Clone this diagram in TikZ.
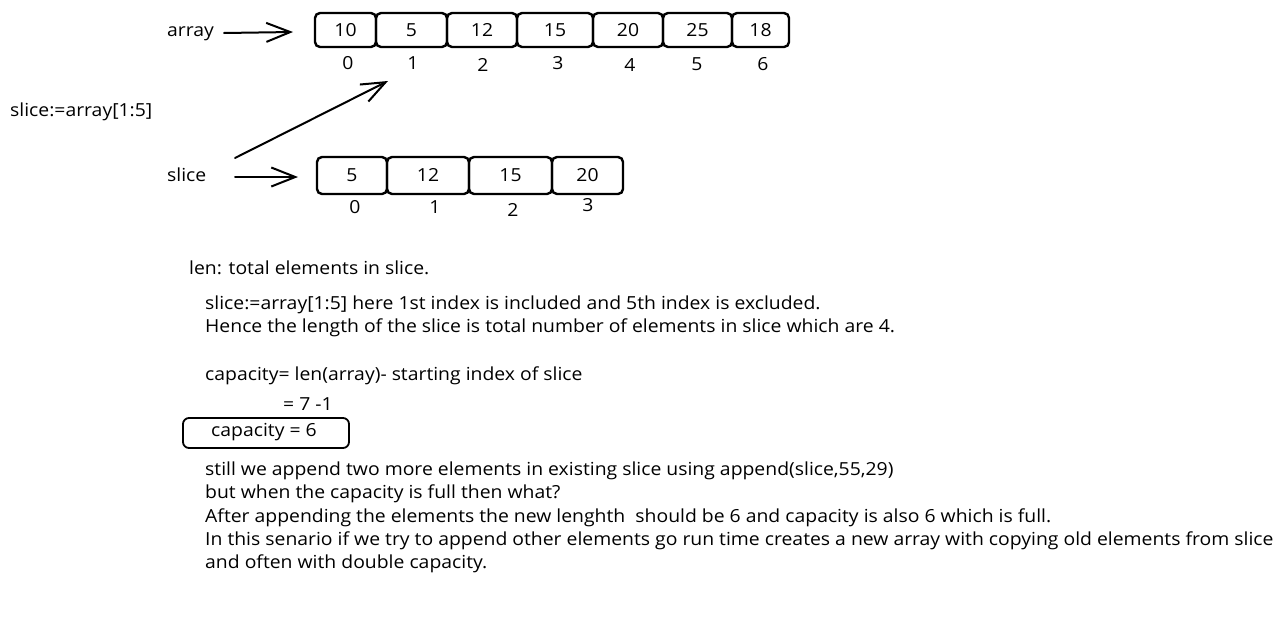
\documentclass[tikz,border=0pt]{standalone}
\usepackage{fontspec}
\setmainfont{Open Sans}[FakeStretch=1.076]
\usetikzlibrary{arrows.meta}
\tikzset{
  cell/.style={draw, line width=2.4pt, rounded corners=5pt},
  celltxt/.style={font=\fontsize{18}{21}\selectfont},
  idx/.style={font=\fontsize{18}{21}\selectfont},
  lbl/.style={font=\fontsize{18}{21}\selectfont, anchor=base west, inner sep=0pt},
  body/.style={font=\fontsize{18}{21}\selectfont, anchor=base west, inner sep=0pt},
  sk/.style={line width=2pt, line cap=round, -{Straight Barb[length=24pt,width=19pt,line width=2pt]}},
}
\begin{document}
\begin{tikzpicture}[x=1pt,y=-1pt]
\useasboundingbox (0,0) rectangle (1285,627);
% array cells
\foreach \a/\b/\v/\n in {315/376/10/a0,376/447/5/a1,447/517/12/a2,517/593/15/a3,593/663/20/a4,663/732/25/a5,732/789/18/a6}{
  \draw[cell] (\a,13) rectangle (\b,47);
  \node[celltxt] (\n) at ({(\a+\b)/2},30) {\v};
}
\foreach \x/\y/\t in {348/63/0,413/63/1,483/65/2,558/63/3,630/65/4,697/64/5,763/64/6}{
  \node[idx] (ai\t) at (\x,\y) {\t};
}
% slice cells
\foreach \a/\b/\v/\n in {317/387/5/s0,387/469/12/s1,469/552/15/s2,552/623/20/s3}{
  \draw[cell] (\a,157) rectangle (\b,194);
  \node[celltxt] (\n) at ({(\a+\b)/2},175) {\v};
}
\foreach \x/\y/\t in {355/207/0,435/207/1,513/210/2,588/205/3}{
  \node[idx] (si\t) at (\x,\y) {\t};
}
% labels
\node[lbl] (arr) at (167,36) {array};
\node[lbl] (sl) at (167,181) {slice};
\node[lbl] (def) at (10,116) {slice:=array[1:5]};
\coordinate (arrS) at (224,33);
\coordinate (arrE) at (293,32);
\draw[sk] (arrS) -- (arrE);
\coordinate (slS) at (235,177);
\coordinate (slE) at (298,177);
\draw[sk] (slS) -- (slE);
\coordinate (dS) at (235,158);
\coordinate (dE) at (388,81);
\draw[sk] (dS) -- (dE);
% body text
\node[body] (t1) at (189,274) {len: total elements in slice.};
\node[body] (t2) at (205,309) {slice:=array[1:5] here 1st index is included and 5th index is excluded.};
\node[body] (t3) at (205,332) {Hence the length of the slice is total number of elements in slice which are 4.};
\node[body] (t4) at (205,380) {capacity= len(array)- starting index of slice};
\node[body] (t5) at (283,410) {= 7 -1};
\draw[line width=1.8pt, rounded corners=6pt] (183,418) rectangle (349,448);
\node[body] (cap) at (211,436) {capacity = 6};
\node[body] (t6) at (205,475) {still we append two more elements in existing slice using append(slice,55,29)};
\node[body] (t7) at (205,498) {but when the capacity is full then what?};
\node[body] (t8) at (205,522) {After appending the elements the new lenghth\ \ should be 6 and capacity is also 6 which is full.};
\node[body] (t9) at (205,545) {In this senario if we try to append other elements go run time creates a new array with copying old elements from slice};
\node[body] (t10) at (205,568) {and often with double capacity.};
\end{tikzpicture}
\end{document}
